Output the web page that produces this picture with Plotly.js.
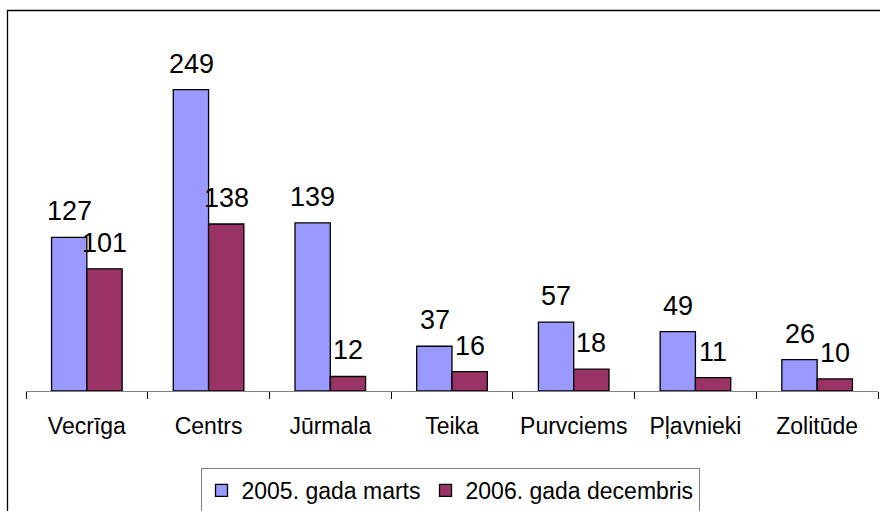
<!DOCTYPE html>
<html>
<head>
<meta charset="utf-8">
<script src="https://cdn.plot.ly/plotly-3.0.1.min.js"></script>
<style>body{margin:0;padding:0;background:#fff}#chart{width:880px;height:511px}</style>
</head>
<body>
<div id="chart"></div>
<script>
const categories = ["Vecrīga", "Centrs", "Jūrmala", "Teika", "Purvciems", "Pļavnieki", "Zolitūde"];
const series2005 = [127, 249, 139, 37, 57, 49, 26];
const series2006 = [101, 138, 12, 16, 18, 11, 10];
const seriesNames = ["2005. gada marts", "2006. gada decembris"];
const colors = ["#9999FF", "#993366"];

const W = 880, H = 511;
const margin = {l: 26, r: 2, t: 28, b: 120, autoexpand: false};
const pw = W - margin.l - margin.r, ph = H - margin.t - margin.b;
const px2x = x => (x - margin.l) / pw;
const py2y = y => (H - margin.b - y) / ph;

const traces = [series2005, series2006].map((vals, i) => ({
  type: "bar",
  x: categories,
  y: vals,
  name: seriesNames[i],
  marker: {color: colors[i], line: {color: "#000", width: 1.3}},
  hoverinfo: "none"
}));

const annotations = [];
[series2005, series2006].forEach((vals, i) => {
  vals.forEach((v, j) => {
    annotations.push({
      x: categories[j], y: v, xref: "x", yref: "y",
      text: String(v), showarrow: false,
      xanchor: "center", yanchor: "bottom",
      xshift: i === 0 ? -17.5 : 17.5, yshift: 9,
      font: {family: "Arial, Liberation Sans, sans-serif", size: 27, color: "#000"}
    });
  });
});

const layout = {
  width: W, height: H,
  margin: margin,
  paper_bgcolor: "#fff", plot_bgcolor: "#fff",
  barmode: "group",
  bargap: 0.42, bargroupgap: 0,
  showlegend: true,
  font: {family: "Arial, Liberation Sans, sans-serif", color: "#000"},
  xaxis: {
    type: "category",
    showline: true, linecolor: "#808080", linewidth: 1,
    ticks: "outside", tickson: "boundaries", ticklen: 7, tickcolor: "#000", tickwidth: 1,
    tickfont: {size: 23, color: "#000"},
    ticklabelstandoff: 14,
    showgrid: false, zeroline: false, fixedrange: true
  },
  yaxis: {
    range: [0, 300], visible: false, showgrid: false, zeroline: false, fixedrange: true
  },
  legend: {
    orientation: "h",
    x: px2x(450), xanchor: "center",
    y: py2y(468), yanchor: "top",
    bordercolor: "#808080", borderwidth: 1,
    bgcolor: "#fff",
    font: {size: 23, color: "#000"},
    itemwidth: 30, traceorder: "normal"
  },
  annotations: annotations,
  shapes: [{
    type: "rect", xref: "paper", yref: "paper",
    x0: px2x(7.5), x1: px2x(900), y0: py2y(530), y1: py2y(10.5),
    line: {color: "#000", width: 1.3}, fillcolor: "rgba(0,0,0,0)", layer: "below"
  }]
};

Plotly.newPlot("chart", traces, layout, {staticPlot: true, displayModeBar: false});
</script>
</body>
</html>
